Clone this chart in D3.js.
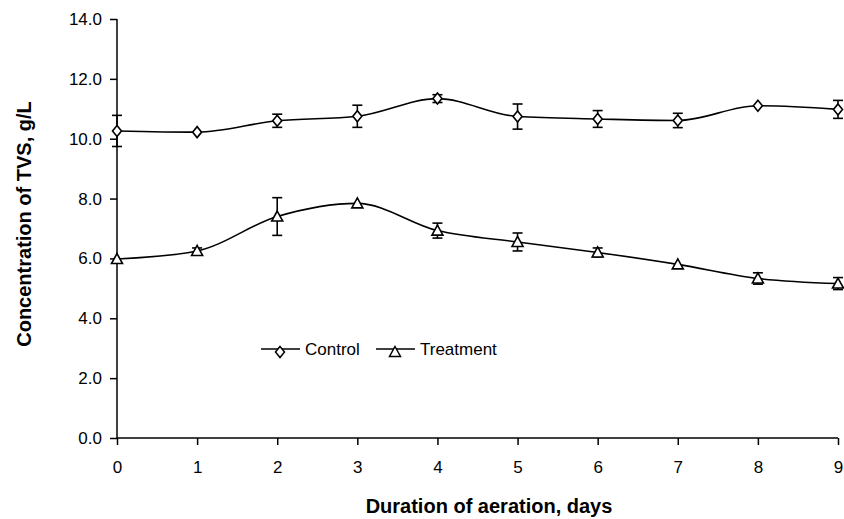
<!DOCTYPE html>
<html><head><meta charset="utf-8">
<script src="https://cdn.jsdelivr.net/npm/d3@7"></script>
<style>body{margin:0;background:#fff;} svg{display:block;font-family:"Liberation Sans",Arial,sans-serif;}</style>
</head><body>
<svg id="c" width="844" height="519"></svg>
<script>
const days = [0,1,2,3,4,5,6,7,8,9];
const controlValues = [10.26,10.22,10.6,10.75,11.34,10.74,10.66,10.61,11.10,10.98];
const controlErrors = [0.52,0.05,0.22,0.37,0.13,0.42,0.28,0.24,0.03,0.3];
const treatmentValues = [5.98,6.25,7.40,7.84,6.93,6.55,6.2,5.8,5.33,5.16];
const treatmentErrors = [0.02,0.1,0.63,0.05,0.25,0.3,0.15,0.06,0.19,0.2];
const yTicks = [0,2,4,6,8,10,12,14];
const xTicks = [0,1,2,3,4,5,6,7,8,9];

const svg = d3.select("#c");
const x = d3.scaleLinear().domain([0,9]).range([117,838]);
const y = d3.scaleLinear().domain([0,14]).range([438,19]);

// axes
const yAxis = d3.axisLeft(y).tickValues(yTicks).tickFormat(d3.format(".1f")).tickSize(7).tickPadding(8);
const gy = svg.append("g").attr("transform","translate(117,0)").call(yAxis);
const xAxis = d3.axisBottom(x).tickValues(xTicks).tickFormat(d3.format("d")).tickSize(7).tickPadding(16);
const gx = svg.append("g").attr("transform","translate(0,438)").call(xAxis);
[gx,gy].forEach(g=>{
  g.select(".domain").attr("stroke","#000").attr("stroke-width",1.5);
  g.selectAll(".tick line").attr("stroke","#000").attr("stroke-width",1.5);
  g.selectAll(".tick text").attr("fill","#000").style("font-size","17px").style("font-family","'Liberation Sans',Arial,sans-serif");
});
gy.select(".domain").attr("d","M-0,438V19");
gx.select(".domain").attr("d","M117,0H838");

function series(vals, errs, marker){
  const pts = days.map((d,i)=>({d,v:vals[i],e:errs[i]}));
  svg.append("path").datum(pts)
    .attr("fill","none").attr("stroke","#000").attr("stroke-width",1.6)
    .attr("d", d3.line().x(p=>x(p.d)).y(p=>y(p.v)).curve(d3.curveMonotoneX));
  const eb = svg.append("g").attr("stroke","#000").attr("stroke-width",1.6);
  pts.forEach(p=>{
    if(p.e<0.08) return;
    const cx=x(p.d), t=y(p.v+p.e), b=y(p.v-p.e);
    eb.append("line").attr("x1",cx).attr("x2",cx).attr("y1",t).attr("y2",b);
    eb.append("line").attr("x1",cx-5).attr("x2",cx+5).attr("y1",t).attr("y2",t);
    eb.append("line").attr("x1",cx-5).attr("x2",cx+5).attr("y1",b).attr("y2",b);
  });
  svg.append("g").selectAll("path").data(pts).join("path")
    .attr("transform",p=>`translate(${x(p.d)},${y(p.v)})`)
    .attr("d", marker).attr("fill","#fff").attr("stroke","#000").attr("stroke-width",1.6);
}
const diamond = "M0,-5.5L4.5,0L0,5.5L-4.5,0Z";
const triangle = "M0,-5.5L5.5,4.5L-5.5,4.5Z";
series(controlValues, controlErrors, diamond);
series(treatmentValues, treatmentErrors, triangle);

// legend
const lg = svg.append("g");
const legendItems = [{name:"Control", m:diamond, x0:261},{name:"Treatment", m:triangle, x0:376}];
legendItems.forEach(it=>{
  lg.append("line").attr("x1",it.x0).attr("x2",it.x0+39).attr("y1",349).attr("y2",349).attr("stroke","#000").attr("stroke-width",1.6);
  lg.append("path").attr("transform",`translate(${it.x0+19},352)`).attr("d",it.m).attr("fill","#fff").attr("stroke","#000").attr("stroke-width",1.5);
  lg.append("text").attr("x",it.x0+44).attr("y",355).text(it.name).style("font-size","17px").attr("fill","#000");
});

// titles
svg.append("text").attr("x",489).attr("y",513).attr("text-anchor","middle")
  .style("font-size","20px").style("font-weight","bold").text("Duration of aeration, days");
svg.append("text").attr("transform","translate(31,224) rotate(-90)").attr("text-anchor","middle")
  .style("font-size","20px").style("font-weight","bold").text("Concentration of TVS, g/L");
</script>
</body></html>
